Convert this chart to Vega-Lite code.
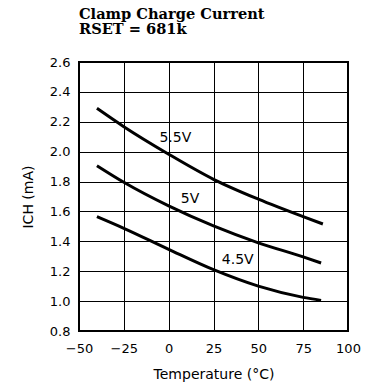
{
  "$schema": "https://vega.github.io/schema/vega-lite/v6.json",
  "width": 269,
  "height": 269,
  "autosize": "none",
  "padding": {"left": 79, "top": 62, "right": 22, "bottom": 58},
  "background": "white",
  "title": {
    "text": ["Clamp Charge Current", "RSET = 681k"],
    "anchor": "start",
    "frame": "group",
    "font": "DejaVu Serif",
    "fontSize": 14.6,
    "fontWeight": "bold",
    "color": "black",
    "lineHeight": 15.5,
    "offset": 19
  },
  "datasets": {
    "curves": [
      {"series": "5.5V", "t": -40, "i": 2.29},
      {"series": "5.5V", "t": -25, "i": 2.167},
      {"series": "5.5V", "t": 0, "i": 1.983},
      {"series": "5.5V", "t": 25, "i": 1.815},
      {"series": "5.5V", "t": 50, "i": 1.682},
      {"series": "5.5V", "t": 75, "i": 1.565},
      {"series": "5.5V", "t": 86, "i": 1.516},
      {"series": "5V", "t": -40, "i": 1.906},
      {"series": "5V", "t": -25, "i": 1.795},
      {"series": "5V", "t": 0, "i": 1.637},
      {"series": "5V", "t": 25, "i": 1.503},
      {"series": "5V", "t": 50, "i": 1.39},
      {"series": "5V", "t": 75, "i": 1.296},
      {"series": "5V", "t": 85, "i": 1.255},
      {"series": "4.5V", "t": -40, "i": 1.565},
      {"series": "4.5V", "t": -25, "i": 1.487},
      {"series": "4.5V", "t": 0, "i": 1.346},
      {"series": "4.5V", "t": 25, "i": 1.21},
      {"series": "4.5V", "t": 50, "i": 1.1},
      {"series": "4.5V", "t": 75, "i": 1.025},
      {"series": "4.5V", "t": 85, "i": 1.005}
    ],
    "labels": [
      {"label": "5.5V", "t": 3.7, "i": 2.093},
      {"label": "5V", "t": 11.9, "i": 1.685},
      {"label": "4.5V", "t": 38.5, "i": 1.276}
    ]
  },
  "layer": [
    {
      "data": {"name": "curves"},
      "mark": {"type": "line", "color": "black", "strokeWidth": 3, "interpolate": "monotone"},
      "encoding": {
        "x": {
          "field": "t", "type": "quantitative",
          "scale": {"domain": [-50, 100], "nice": false},
          "axis": {"values": [-50, -25, 0, 25, 50, 75, 100], "tickCount": 7, "title": "Temperature (°C)", "labelPadding": 11, "titlePadding": 12, "labelFlush": false}
        },
        "y": {
          "field": "i", "type": "quantitative",
          "scale": {"domain": [0.8, 2.6], "nice": false, "zero": false},
          "axis": {"values": [0.8, 1.0, 1.2, 1.4, 1.6, 1.8, 2.0, 2.2, 2.4, 2.6], "tickCount": 10, "format": ".1f", "title": "ICH (mA)", "labelPadding": 9, "titlePadding": 14, "labelFlush": false}
        },
        "detail": {"field": "series"}
      }
    },
    {
      "data": {"name": "labels"},
      "mark": {"type": "text", "font": "DejaVu Sans", "fontSize": 14, "color": "black", "align": "center", "baseline": "middle"},
      "encoding": {
        "x": {"field": "t", "type": "quantitative"},
        "y": {"field": "i", "type": "quantitative"},
        "text": {"field": "label"}
      }
    }
  ],
  "config": {
    "view": {"stroke": "black", "strokeWidth": 2},
    "axis": {
      "grid": true,
      "gridColor": "black",
      "gridOpacity": 1,
      "gridWidth": 1,
      "domain": false,
      "ticks": false,
      "tickSize": 0,
      "labelOverlap": false,
      "labelFont": "DejaVu Sans",
      "labelFontSize": 13,
      "labelColor": "black",
      "titleFont": "DejaVu Sans",
      "titleFontSize": 14,
      "titleFontWeight": "normal",
      "titleColor": "black"
    }
  }
}
